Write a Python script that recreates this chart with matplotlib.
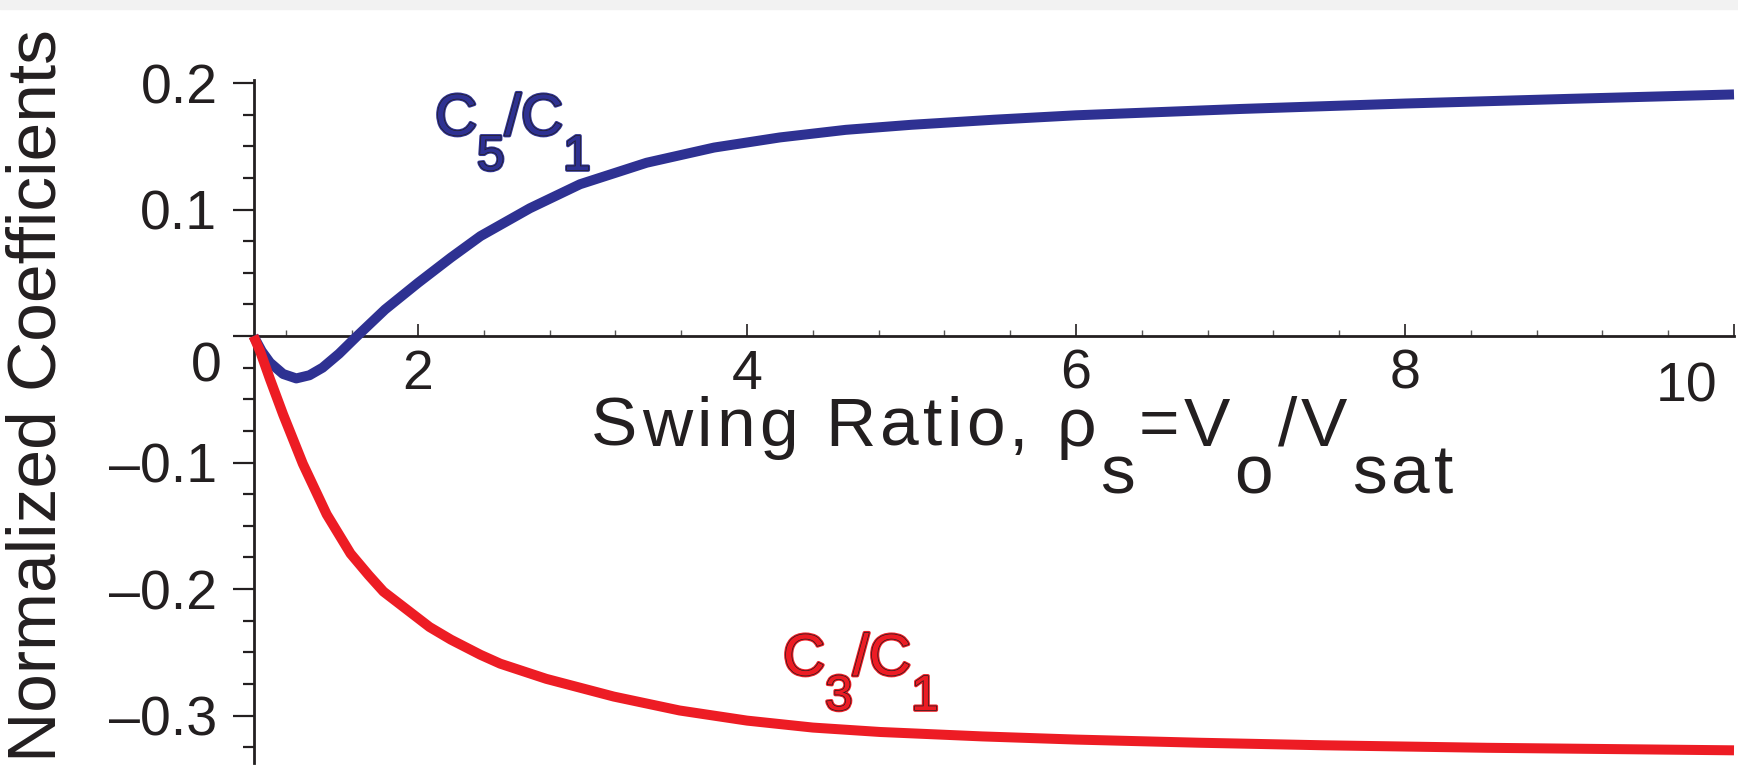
import matplotlib
matplotlib.use('Agg')
import matplotlib.pyplot as plt
import matplotlib.patheffects as pe
from matplotlib.patches import Rectangle
from matplotlib.ticker import FixedLocator, MultipleLocator

plt.rcParams['font.family'] = ['Liberation Sans', 'DejaVu Sans']

# values
swing = [1.0, 1.05, 1.1, 1.18, 1.26, 1.34, 1.42, 1.52, 1.63, 1.8, 2.0, 2.2,
         2.38, 2.68, 2.985, 3.39, 3.8, 4.2, 4.6, 5.0, 5.5, 6.0, 7.0, 8.0, 9.0, 10.0]
c5_c1 = [0.0, -0.012, -0.021, -0.030, -0.0335, -0.031, -0.025, -0.014, 0.0,
         0.021, 0.042, 0.062, 0.079, 0.101, 0.120, 0.137, 0.149, 0.157, 0.163,
         0.167, 0.171, 0.1745, 0.1795, 0.1838, 0.1875, 0.191]

swing3 = [1.0, 1.04, 1.1, 1.18, 1.3, 1.445, 1.59, 1.7, 1.79, 1.9, 2.07, 2.2,
          2.38, 2.5, 2.78, 3.19, 3.59, 4.0, 4.4, 4.81, 5.43, 6.0, 6.75, 7.5,
          8.5, 10.0]
c3_c1 = [0.0, -0.012, -0.034, -0.062, -0.101, -0.141, -0.172, -0.189, -0.202,
         -0.213, -0.230, -0.240, -0.252, -0.259, -0.271, -0.285, -0.296, -0.304,
         -0.3095, -0.313, -0.3165, -0.319, -0.3215, -0.3235, -0.3255, -0.3275]

xticks = [2, 4, 6, 8, 10]
xlabels = ['2', '4', '6', '8', '']
yticks = [-0.3, -0.2, -0.1, 0, 0.1, 0.2]
ylabels = ['\u20130.3', '\u20130.2', '\u20130.1', '', '0.1', '0.2']

BLUE = '#2e3192'
RED = '#ed1c24'
INK = '#231f20'
W, H = 1738, 770

fig = plt.figure(figsize=(W / 100, H / 100), dpi=100)
fig.patches.append(Rectangle((0, 1 - 9 / H), 1, 9 / H, transform=fig.transFigure,
                             color='#f2f2f2', zorder=0))
ax = fig.add_axes([253.5 / W, 1 - 762.6 / H, (1734 - 253.5) / W, (762.6 - 80) / H])

ax.plot(swing, c5_c1, color=BLUE, lw=7.2, solid_capstyle='butt',
        solid_joinstyle='round', clip_on=False, zorder=3)
ax.plot(swing3, c3_c1, color=RED, lw=7.2, solid_capstyle='butt',
        solid_joinstyle='round', clip_on=False, zorder=4)

ax.set_xlim(1, 10)
ax.set_ylim(-0.3372, 0.2024)

for s in ['top', 'right']:
    ax.spines[s].set_visible(False)
ax.spines['bottom'].set_position(('data', 0))
ax.spines['bottom'].set_linewidth(2)
ax.spines['left'].set_linewidth(2)
ax.spines['bottom'].set_color(INK)
ax.spines['left'].set_color(INK)

ax.xaxis.set_major_locator(FixedLocator(xticks))
ax.set_xticklabels(xlabels)
ax.xaxis.set_minor_locator(MultipleLocator(0.4))
ax.yaxis.set_major_locator(FixedLocator(yticks))
ax.set_yticklabels(ylabels)
ax.yaxis.set_minor_locator(MultipleLocator(0.025))

ax.tick_params(axis='x', which='major', direction='in', length=9, width=1.2,
               color=INK, labelsize=40, labelcolor=INK, pad=9)
ax.tick_params(axis='x', which='minor', direction='in', length=4.5, width=1.0, color='#555555')
ax.tick_params(axis='y', which='major', direction='out', length=15, width=1.6,
               color=INK, labelsize=40, labelcolor=INK, pad=11)
ax.tick_params(axis='y', which='minor', direction='out', length=8, width=1.6, color=INK)

# shifted tick labels
fig.text(222 / W, 1 - 381 / H, '0', fontsize=40, color=INK, ha='right', va='baseline')
fig.text(1717 / W, 1 - 402 / H, '10', fontsize=40, color=INK, ha='right', va='baseline')

fig.text(56 / W, 1 - 396 / H, 'Normalized Coefficients', fontsize=50, color=INK,
         rotation=90, rotation_mode='anchor', ha='center', va='baseline')

renderer = fig.canvas.get_renderer()


def pieces(x, y, parts, size, color, effects=None, track=0):
    for s, dy, scale in parts:
        chunks = list(s) if track else [s]
        for c in chunks:
            t = fig.text(x / W, 1 - (y + dy) / H, c, fontsize=size * scale, color=color,
                         ha='left', va='baseline', path_effects=effects)
            x = t.get_window_extent(renderer).x1 + track


pieces(591, 446, [('Swing Ratio, \u03c1', 0, 1), ('s', 48, 1), ('=V', 0, 1),
                  ('o', 48, 1), ('/V', 0, 1), ('sat', 48, 1)], 50, INK, track=4.3)


def outlined(color):
    return [pe.Stroke(linewidth=2.6, foreground=color),
            pe.Stroke(linewidth=1.0, foreground=INK), pe.Normal()]


pieces(435, 135, [('C', 0, 1), ('5', 35, 0.85), ('/C', 0, 1), ('1', 35, 0.85)],
       42, BLUE, outlined(BLUE))
pieces(783, 675, [('C', 0, 1), ('3', 35, 0.85), ('/C', 0, 1), ('1', 35, 0.85)],
       42, RED, outlined(RED))

fig.savefig('out.png', dpi=100)
